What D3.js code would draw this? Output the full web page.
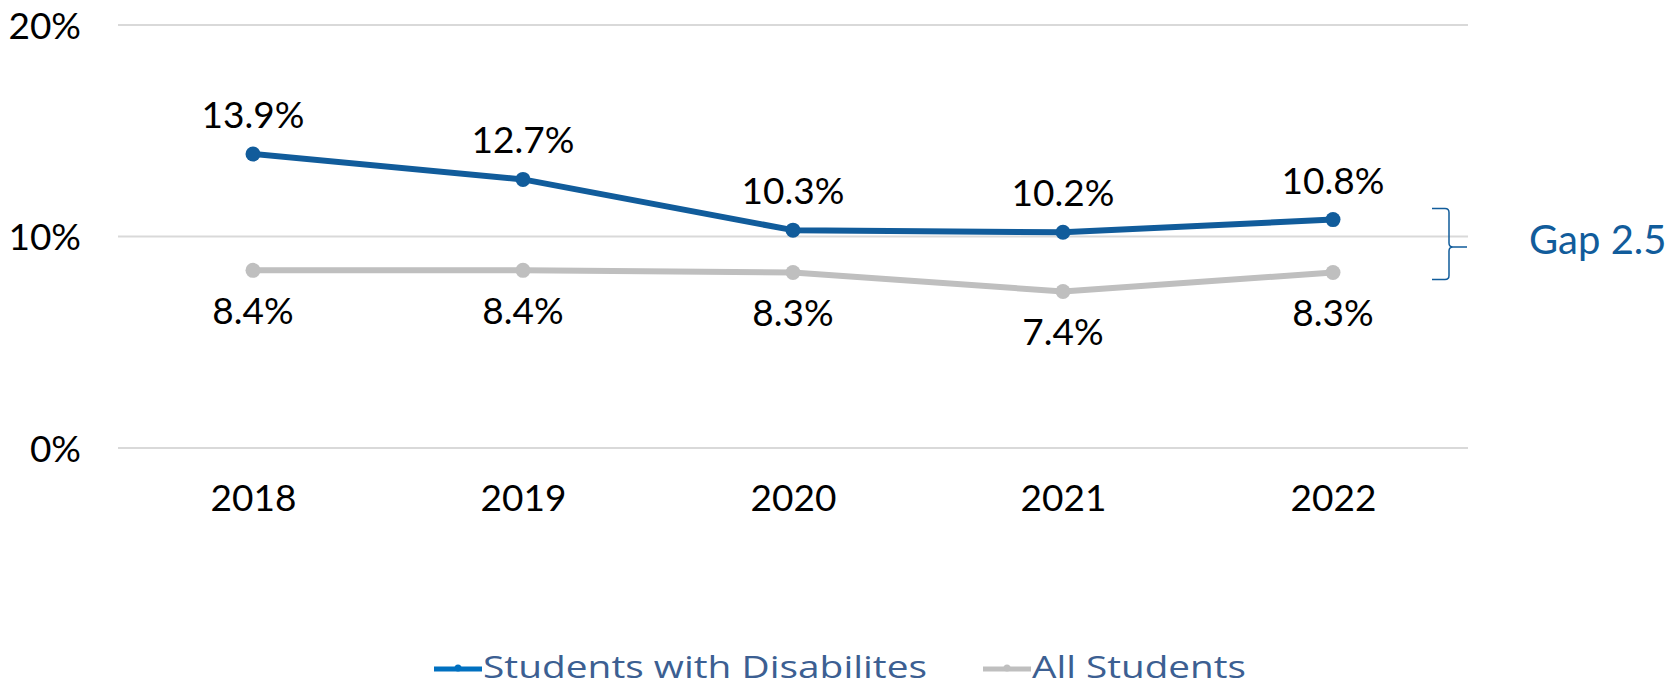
<!DOCTYPE html>
<html>
<head>
<meta charset="utf-8">
<script src="https://cdn.jsdelivr.net/npm/d3@7"></script>
<style>
  html, body { margin: 0; padding: 0; background: #ffffff; }
  svg { display: block; }
  text { font-family: Lato, "Open Sans", sans-serif; }
</style>
</head>
<body>
<svg id="chart" width="1675" height="688"></svg>
<script>
// Yearly rates, in percent
const years = ["2018", "2019", "2020", "2021", "2022"];
const disabilities = [13.9, 12.7, 10.3, 10.2, 10.8];
const allStudents = [8.4, 8.4, 8.3, 7.4, 8.3];
const yTicks = [0, 10, 20];
const seriesNames = ["Students with Disabilites", "All Students"];

const plot = { left: 118, right: 1468, top: 25, bottom: 448 };
const blue = "#115C9B", grey = "#BFBFBF";
const fontSize = 37;

const svg = d3.select("#chart");

const x = d3.scalePoint().domain(years).range([plot.left, plot.right]).padding(0.5);
const y = d3.scaleLinear().domain([0, 20]).range([plot.bottom, plot.top]);

// Gridlines
svg.append("g").selectAll("line").data(yTicks).join("line")
  .attr("x1", plot.left).attr("x2", plot.right)
  .attr("y1", d => y(d)).attr("y2", d => y(d))
  .attr("stroke", "#D9D9D9").attr("stroke-width", 2);

// Y axis labels
const yAxis = d3.axisLeft(y).tickValues(yTicks).tickFormat(d => d + "%").tickSize(0).tickPadding(0);
const yg = svg.append("g").attr("transform", "translate(81,0)").call(yAxis);
yg.select(".domain").remove();
yg.selectAll("text").attr("font-size", fontSize).attr("fill", "#000").attr("dy", "0.36em")
  .style("font-family", "Lato, sans-serif");

// X axis labels
const xAxis = d3.axisBottom(x).tickSize(0).tickPadding(0);
const xg = svg.append("g").attr("transform", "translate(0,511)").call(xAxis);
xg.select(".domain").remove();
xg.selectAll("text").attr("font-size", fontSize).attr("fill", "#000").attr("dy", 0)
  .style("font-family", "Lato, sans-serif");

const line = d3.line().x((d, i) => x(years[i])).y(d => y(d));

function drawSeries(values, color, labelOffset) {
  const g = svg.append("g");
  g.append("path").datum(values).attr("d", line)
    .attr("fill", "none").attr("stroke", color).attr("stroke-width", 6)
    .attr("stroke-linejoin", "round");
  g.selectAll("circle").data(values).join("circle")
    .attr("cx", (d, i) => x(years[i])).attr("cy", d => y(d)).attr("r", 7.5)
    .attr("fill", color);
  g.selectAll("text").data(values).join("text")
    .attr("x", (d, i) => x(years[i])).attr("y", d => y(d) + labelOffset)
    .attr("text-anchor", "middle").attr("font-size", fontSize).attr("fill", "#000")
    .text(d => d.toFixed(1) + "%");
}
drawSeries(allStudents, grey, 54);
drawSeries(disabilities, blue, -26);

// Gap bracket for the latest year
const last = years.length - 1;
const gap = disabilities[last] - allStudents[last];
const gTop = y(disabilities[last]) - 11, gBot = y(allStudents[last]) + 7;
const gMid = (gTop + gBot) / 2 + 3;
const bx = 1432, vx = 1449, tipX = 1467, rr = 4;
svg.append("path")
  .attr("d", `M${bx},${gTop} L${vx - rr},${gTop} Q${vx},${gTop} ${vx},${gTop + rr}
              L${vx},${gMid - rr} Q${vx},${gMid} ${vx + rr},${gMid} L${tipX},${gMid}
              M${vx + rr},${gMid} Q${vx},${gMid} ${vx},${gMid + rr}
              L${vx},${gBot - rr} Q${vx},${gBot} ${vx - rr},${gBot} L${bx},${gBot}`)
  .attr("fill", "none").attr("stroke", blue).attr("stroke-width", 1.5);
svg.append("text").attr("x", 1529).attr("y", 254)
  .attr("font-size", 40).attr("fill", blue).text("Gap " + gap.toFixed(1));

// Legend
const legend = [
  { name: seriesNames[0], color: "#0070C0", x: 434, textW: 444 },
  { name: seriesNames[1], color: grey, x: 983, textW: 214 }
];
const lg = svg.append("g");
legend.forEach(l => {
  lg.append("line").attr("x1", l.x).attr("x2", l.x + 48).attr("y1", 669).attr("y2", 669)
    .attr("stroke", l.color).attr("stroke-width", 5);
  lg.append("circle").attr("cx", l.x + 24).attr("cy", 668).attr("r", 3.5).attr("fill", l.color);
  lg.append("text").attr("x", l.x + 49).attr("y", 678)
    .attr("font-size", 31).attr("fill", "#3C5F92")
    .attr("textLength", l.textW).attr("lengthAdjust", "spacingAndGlyphs")
    .style("font-family", "'Liberation Sans Narrow', 'Open Sans', sans-serif")
    .text(l.name);
});
</script>
</body>
</html>
